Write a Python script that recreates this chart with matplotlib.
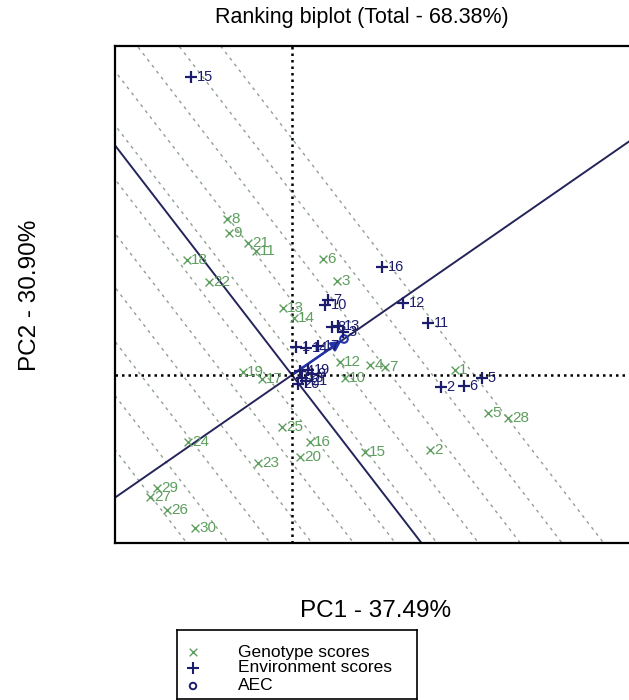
import numpy as np
import matplotlib
matplotlib.use('Agg')
import matplotlib.pyplot as plt

plt.rcParams['font.family'] = ['Liberation Sans', 'DejaVu Sans']

# Genotype scores (PC1, PC2)
gen_labels = [str(i) for i in range(1, 31)]
gen_pc1 = [3.26, 2.76, 0.90, 1.56, 3.92, 0.62, 1.86, -1.30, -1.26, 1.06,
           -0.72, 0.96, -0.18, 0.04, 1.46, 0.36, -0.60, -2.10, -0.98, 0.16,
           -0.88, -1.66, -0.68, -2.08, -0.20, -2.50, -2.84, 4.32, -2.70, -1.94]
gen_pc2 = [0.11, -1.58, 1.98, 0.21, -0.80, 2.45, 0.17, 3.29, 3.00, -0.06,
           2.62, 0.27, 1.41, 1.20, -1.62, -1.41, -0.08, 2.43, 0.06, -1.73,
           2.78, 1.96, -1.86, -1.41, -1.10, -2.85, -2.57, -0.91, -2.38, -3.23]

# Environment scores (PC1, PC2)
env_labels = [str(i) for i in range(1, 22)]
env_pc1 = [0.08, 2.98, 1.02, 0.16, 3.80, 3.44, 0.72, 0.80, 0.40, 0.66,
           2.72, 2.22, 0.92, 0.28, -2.02, 1.80, 0.52, 0.20, 0.32, 0.12, 0.28]
env_pc2 = [0.59, -0.25, 0.91, 0.08, -0.06, -0.23, 1.58, 1.01, 0.02, 1.48,
           1.10, 1.52, 1.03, 0.57, 6.29, 2.28, 0.61, -0.06, 0.11, -0.19, -0.13]

# average environment coordinate
aec = (1.04, 0.76)

gen_col = '#5e9e5e'
env_col = '#1c1c6c'
aec_col = '#2233a8'
line_col = '#24245a'
grid_col = '#8fa08f'

fig = plt.figure(figsize=(6.29, 7.0), dpi=100)
ax = fig.add_axes([115 / 629, 157 / 700, 525 / 629, 497 / 700])
ax.set_xlim(-3.54, 6.96)
ax.set_ylim(-3.544, 6.94)
ax.set_xticks([])
ax.set_yticks([])
for s in ax.spines.values():
    s.set_linewidth(1.6)
    s.set_color('black')

# unit vector of the AEC abscissa and its perpendicular
u = np.array(aec) / np.hypot(*aec)
p = np.array([-u[1], u[0]])
t = np.linspace(-20, 20, 2)

# dashed lines perpendicular to AEC
c0, dc = 0.25, 0.673
for k in range(-6, 5):
    c = c0 + k * dc
    ax.plot(c * u[0] + t * p[0], c * u[1] + t * p[1], color=grid_col,
            lw=1.0, ls=(0, (2.2, 3.2)), zorder=1)

# AEC abscissa and ordinate
ax.plot(t * u[0], t * u[1], color=line_col, lw=1.4, zorder=2)
ax.plot(t * p[0], t * p[1], color=line_col, lw=1.4, zorder=2)

# origin axes
ax.axhline(0, color='black', lw=1.8, ls=(0, (1, 1.6)), zorder=2)
ax.axvline(0, color='black', lw=1.8, ls=(0, (1, 1.6)), zorder=2)

# genotypes
ax.scatter(gen_pc1, gen_pc2, marker='x', s=32, color=gen_col, lw=1.0, zorder=3)
for lab, x, y in zip(gen_labels, gen_pc1, gen_pc2):
    ax.annotate(lab, (x, y), xytext=(3, 0), textcoords='offset points',
                va='center', ha='left', fontsize=11, color=gen_col, zorder=3)

# AEC arrow
ax.annotate('', xy=aec, xytext=(0, 0),
            arrowprops=dict(arrowstyle='-|>', color=aec_col, lw=1.8,
                            mutation_scale=15), zorder=4)
ax.scatter([aec[0]], [aec[1]], marker='o', s=30, facecolor='none',
           edgecolor=aec_col, lw=1.5, zorder=4)

# environments
ax.scatter(env_pc1, env_pc2, marker='+', s=80, color=env_col, lw=1.6, zorder=5)
for lab, x, y in zip(env_labels, env_pc1, env_pc2):
    ax.annotate(lab, (x, y), xytext=(4, 0), textcoords='offset points',
                va='center', ha='left', fontsize=10.5, color=env_col, zorder=5)

fig.text(362 / 629, 1 - 18 / 700, 'Ranking biplot (Total - 68.38%)',
         ha='center', va='center', fontsize=15.5)
fig.text(376 / 629, 1 - 611 / 700, 'PC1 - 37.49%', ha='center', va='center',
         fontsize=17.5)
fig.text(30 / 629, 1 - 295 / 700, 'PC2 - 30.90%', ha='center', va='center',
         fontsize=17.5, rotation=90)

# legend box
lg = fig.add_axes([177 / 629, 1 / 700, 240 / 629, 69 / 700])
lg.set_xlim(0, 240)
lg.set_ylim(69, 0)
lg.set_xticks([])
lg.set_yticks([])
for s in lg.spines.values():
    s.set_linewidth(1.2)
lg.scatter([16], [22], marker='x', s=30, color=gen_col, lw=1.0)
lg.scatter([16], [38], marker='+', s=70, color=env_col, lw=1.5)
lg.scatter([16], [56], marker='o', s=22, facecolor='none', edgecolor=env_col, lw=1.4)
for yy, txt in zip([22, 38, 56], ['Genotype scores', 'Environment scores', 'AEC']):
    lg.text(61, yy, txt, va='center', ha='left', fontsize=12.5)

fig.savefig('out.png', dpi=100)
